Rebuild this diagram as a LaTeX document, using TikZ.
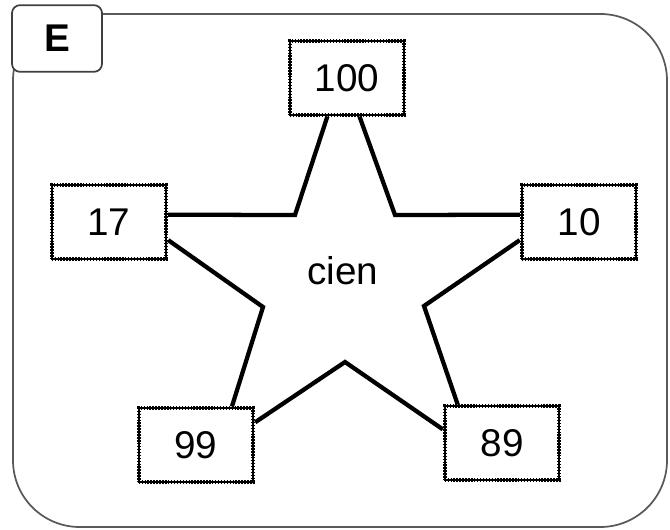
\documentclass[tikz,border=0pt]{standalone}
\usepackage{fontspec}
\setmainfont{Liberation Sans}

\tikzset{numbox/.style={rectangle, draw, line width=2.8pt, dash pattern=on 1.1pt off 1.1pt, fill=white,
    postaction={draw, solid, line width=1.5pt},
    minimum width=86pt, minimum height=55pt, inner sep=0pt,
    font=\fontsize{29}{34}\selectfont}}
\tikzset{starline/.style={line width=3.2pt, line join=miter}}

\begin{document}
\begin{tikzpicture}[x=0.75pt, y=-0.75pt]
			\useasboundingbox (0,0) rectangle (670,530);
			
			% Outer frame
			\draw[black!65, line width=1.3pt, rounded corners=50pt] (13,14) rectangle (667,527);
			
			% Tab with the letter
			\node[draw=black!75, line width=1.3pt, rounded corners=6pt, fill=white, minimum width=67.5pt, minimum height=50pt, inner sep=0pt, font=\fontsize{29}{34}\selectfont\bfseries] (tab) at (57,38.5) {E};
			
			% Number boxes (star points)
			\node[numbox] (n100) at (347,78) {100};
			\node[numbox] (n17) at (109,222) {17};
			\node[numbox] (n10) at (579,222) {10};
			\node[numbox] (n99) at (196,445) {99};
			\node[numbox] (n89) at (502,443) {89};
			
			% Inner corners of the star
			\coordinate (tl) at (295,215);
			\coordinate (tr) at (395,215);
			\coordinate (ml) at (263,307);
			\coordinate (mr) at (424,306);
			\coordinate (bm) at (345,362);
			
			% Star outline
			\draw[starline] (n17.7) -- (tl) -- (n100.243);
			\draw[starline] (n100.288) -- (tr) -- (n10.173);
			\draw[starline] (n10.197) -- (mr) -- (n89.139);
			\draw[starline] (n89.167) -- (bm) -- (n99.21);
			\draw[starline] (n99.47) -- (ml) -- (n17.-17);
			
			% Center word
			\node[font=\fontsize{29}{34}\selectfont] (word) at (343,271) {cien};
		\end{tikzpicture}
\end{document}
